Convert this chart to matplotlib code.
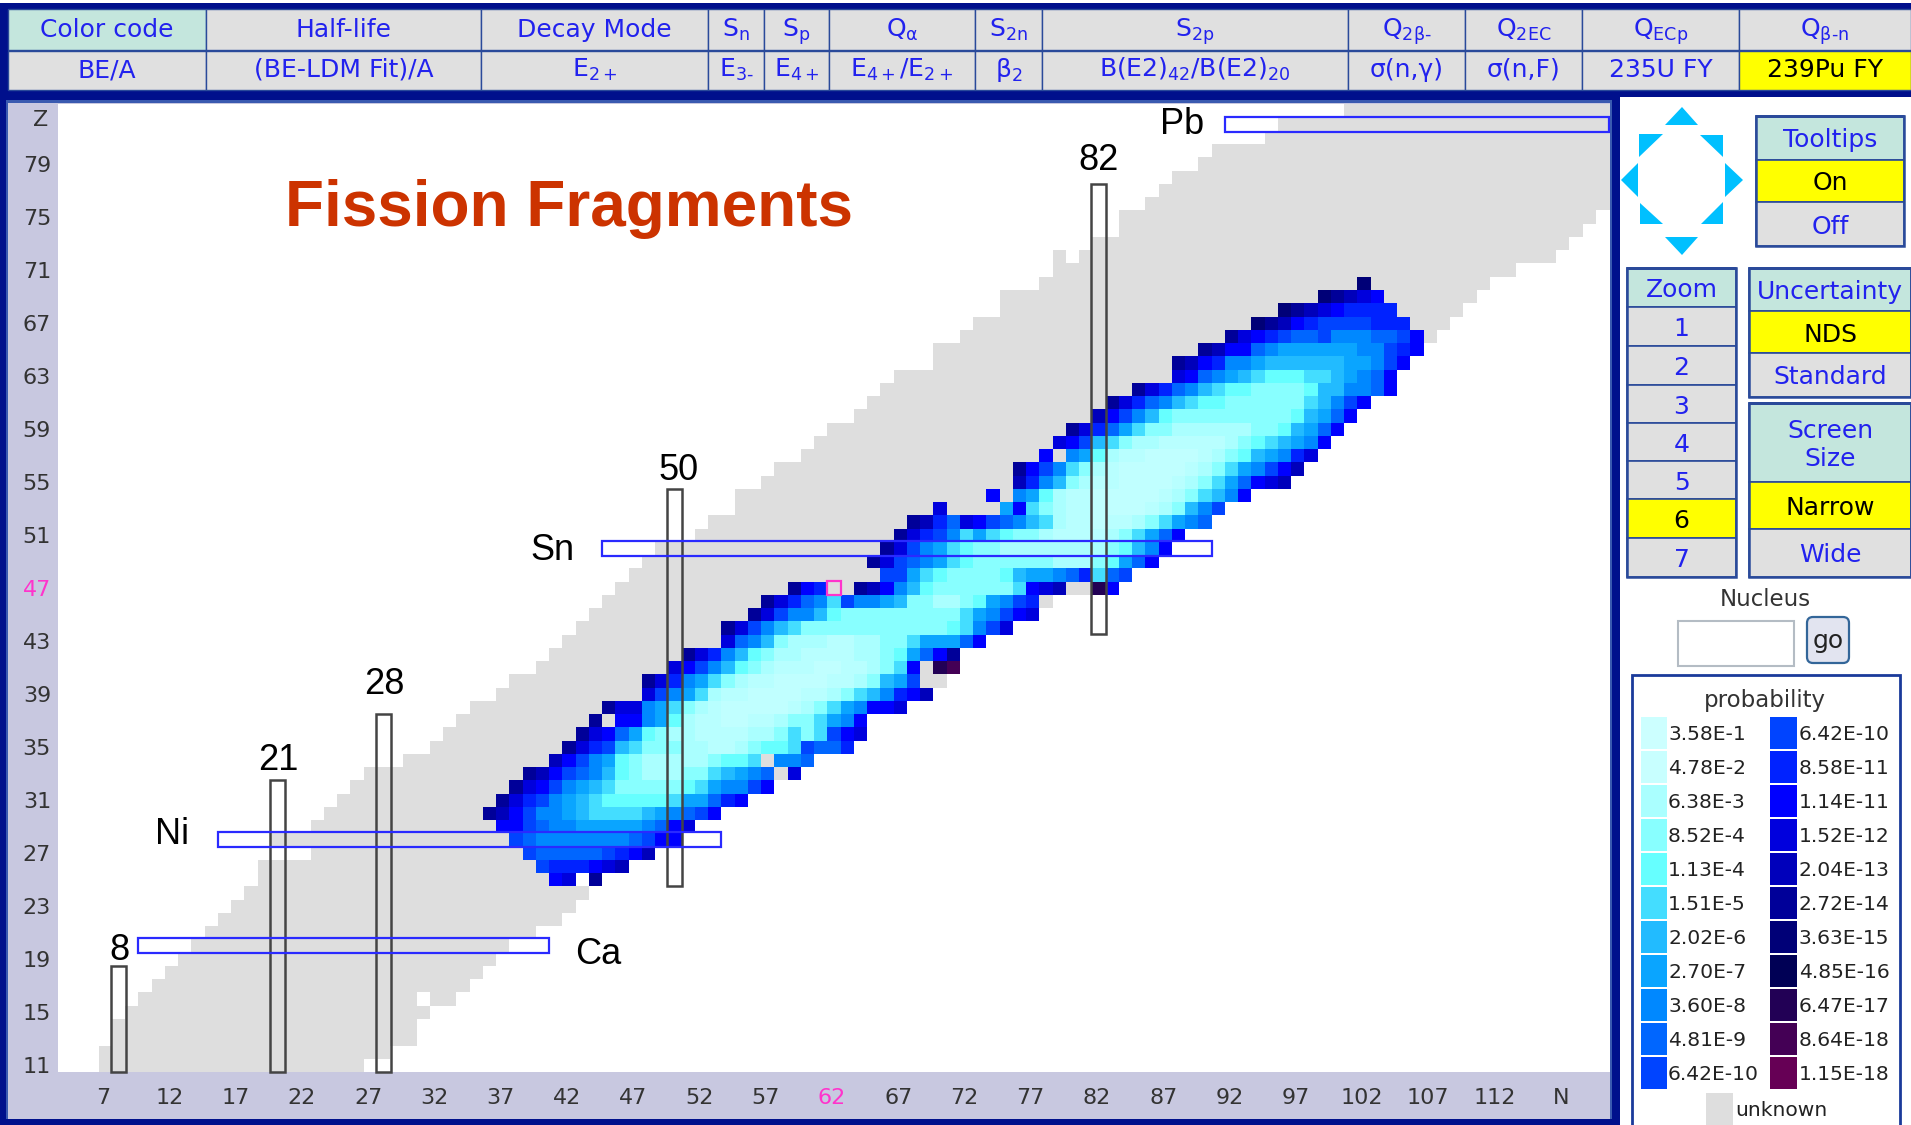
'''
Chart of nuclides view: 239Pu fission fragment yields on the N-Z plane.
'''

import numpy as np
import matplotlib
matplotlib.use('Agg')
import matplotlib.pyplot as plt
from matplotlib.colors import ListedColormap
from matplotlib.patches import Rectangle, Polygon, FancyBboxPatch
from matplotlib.transforms import ScaledTranslation

W, H = 1911, 1125

# known nuclides, one range of N per Z
gray_z = list(range(11, 84))
gray_nmin = [7, 7, 8, 8, 9, 10, 11, 12, 13, 14, 15, 16, 17, 18, 19, 19, 23, 20, 23, 24,
             25, 26, 27, 30, 32, 33, 34, 35, 37, 38, 40, 41, 42, 43, 44, 45, 46, 47, 48, 49,
             52, 53, 55, 55, 57, 58, 60, 61, 62, 64, 65, 66, 67, 70, 70, 72, 73, 75, 75, 78,
             79, 79, 82, 84, 84, 86, 87, 88, 90, 91, 95, 96, 101]
gray_nmax = [26, 28, 30, 30, 31, 33, 34, 35, 36, 37, 39, 41, 42, 43, 44, 46, 48, 50, 51, 53,
             55, 57, 59, 60, 63, 64, 64, 67, 69, 70, 71, 71, 73, 75, 77, 78, 83, 84, 86, 87,
             88, 90, 91, 93, 96, 97, 98, 99, 100, 101, 102, 103, 104, 105, 106, 107, 108, 109, 110, 111,
             113, 116, 117, 118, 119, 121, 121, 121, 121, 121, 121, 121, 121]
gray_holes = [(31, 16), (43, 25), (80, 72)]

# yield level per cell, one string per Z. 0-9 and a-k index level_colors, '.' = no yield
fy_z = list(range(25, 71))
fy_start = [41, 40, 39, 38, 37, 36, 37, 38, 39, 41, 42, 43, 44, 45, 48, 48, 50, 51, 54, 54,
            56, 57, 59, 66, 65, 66, 67, 68, 70, 74, 76, 76, 78, 79, 80, 82, 83, 85, 88, 88,
            90, 92, 94, 96, 99, 102]
fy_levels = [
    'cd.f',
    'abbbcde',
    'a99999abce',
    'a988888889acc',
    'cca9887777789cd',
    'feca887655556789ac',
    'fdba8765444445779bc',
    'fdca87653333345788ac',
    'feca986432223356789.d',
    'eca8743222223445.889',
    'fdba65333221123445a99b',
    'fdc9743221111223535acd',
    'f.cc8742110011233578c',
    'fdd87532100000123578ccd',
    'da87521100001123568bce',
    'fdb87532110000112367a',
    'dca864321110011235c.ij',
    'fdb8643221111223479cf',
    'd986322211223357779c',
    'fda86533333333333458ad',
    'fda8864333333333578acd',
    'fdb985a887633223478ab',
    'fcb..fec8643333335cde..ic',
    'aa7543333467789b59a',
    'fda987543333332223479c',
    'fda875433222222223468c',
    'fdba85754332111123579c',
    'feb9dca9865211011235789',
    'd....7c53211000012368a',
    'c.87421100000123568c',
    'eb8632110000123579cde',
    'fca8532100000123578ace',
    'c.87421100001234678bd',
    'dca65322111112345678c',
    'fdb97533222222334679c',
    'eca8643333333334679c',
    'fdb986544333333568ac',
    'fdb9865443333466889c',
    'dc98765444556789c',
    'fecb887666666778ac',
    'fecc9877777788abc',
    'fdcba99a88899ac',
    'gfecbaaaabbb',
    'gfedcbbbb',
    'gfedc',
    'g',
]
level_codes = '0123456789abcdefghijk'
level_colors = ['#c0ffff', '#b8ffff', '#aaffff', '#88ffff', '#66ffff', '#44ddff', '#22bbff',
                '#0aa5ff', '#0088ff', '#0066ff', '#0044ff', '#0022ff', '#0000ff', '#0000dd',
                '#0000bb', '#000099', '#000077', '#000055', '#220055', '#440055', '#660055']
gray_color = '#dedede'

# magic number boxes
magic_n = [8, 20, 28, 50, 82]
magic_zlo = [10.5, 10.5, 10.5, 24.5, 43.5]
magic_zhi = [18.5, 32.5, 37.5, 54.5, 77.5]
magic_z = [20, 28, 50, 82]
magic_nlo = [9.5, 15.5, 44.5, 91.5]
magic_nhi = [40.5, 53.5, 90.5, 120.5]
selected_n, selected_z = 62, 47

n_ticks = [7, 12, 17, 22, 27, 32, 37, 42, 47, 52, 57, 62, 67, 72, 77, 82, 87, 92, 97, 102, 107, 112, 117]
n_labels = [str(n) for n in n_ticks[:-1]] + ['N']
z_ticks = [11, 15, 19, 23, 27, 31, 35, 39, 43, 47, 51, 55, 59, 63, 67, 71, 75, 79]

# top menu
col_edges = [8, 206, 481, 708, 764, 829, 975, 1042, 1348, 1465, 1582, 1739, 1911]
menu_row1 = ['Color code', 'Half-life', 'Decay Mode', 'S$_{n}$', 'S$_{p}$', r'Q$_{\alpha}$', 'S$_{2n}$',
             'S$_{2p}$', r'Q$_{2\beta\text{-}}$', 'Q$_{2EC}$', 'Q$_{ECp}$', r'Q$_{\beta\text{-}n}$']
menu_row2 = ['BE/A', '(BE-LDM Fit)/A', 'E$_{2+}$', r'E$_{3\text{-}}$', 'E$_{4+}$', 'E$_{4+}$/E$_{2+}$',
             r'$\beta_{2}$', 'B(E2)$_{42}$/B(E2)$_{20}$', r'σ(n,γ)', 'σ(n,F)', '235U FY', '239Pu FY']

# legend
probs_left = ['3.58E-1', '4.78E-2', '6.38E-3', '8.52E-4', '1.13E-4', '1.51E-5', '2.02E-6',
              '2.70E-7', '3.60E-8', '4.81E-9', '6.42E-10']
probs_right = ['6.42E-10', '8.58E-11', '1.14E-11', '1.52E-12', '2.04E-13', '2.72E-14', '3.63E-15',
               '4.85E-16', '6.47E-17', '8.64E-18', '1.15E-18']
swatch_left = ['#ccffff', '#c8ffff', '#aaffff', '#88ffff', '#66ffff', '#44ddff', '#22bbff',
               '#0aa5ff', '#0088ff', '#0066ff', '#0044ff']
swatch_right = ['#0044ff', '#0022ff', '#0000ff', '#0000dd', '#0000bb', '#000099', '#000077',
                '#000055', '#220055', '#440055', '#660055']

NAVY = '#00108c'
EDGE = '#2a4a9a'
HEAD = '#c4e6dd'
CELL = '#e0e0e0'
BLUE = '#2222ee'
YELLOW = '#ffff00'
STRIP = '#c8c8e0'
PINK = '#ff33cc'

plt.rcParams['font.family'] = ['DejaVu Sans']
plt.rcParams['mathtext.default'] = 'regular'

fig = plt.figure(figsize=(W / 100, H / 100), dpi=100, facecolor='white')

# page furniture in pixel coordinates, under the chart
ui = fig.add_axes([0, 0, 1, 1], zorder=0)
ui.set_xlim(0, W)
ui.set_ylim(H, 0)
ui.axis('off')


def box(x0, y0, x1, y1, fc, ec='none', lw=0, z=1):
    ui.add_patch(Rectangle((x0, y0), x1 - x0, y1 - y0, fc=fc, ec=ec, lw=lw, zorder=z))


def label(x, y, s, size=18, color=BLUE, ha='center', va='center', **kw):
    fig.text(x, y, s, transform=ui.transData, fontsize=size, color=color, ha=ha, va=va, **kw)


# menu band
box(0, 3, W, 97, NAVY)
for i in range(len(col_edges) - 1):
    x0, x1 = col_edges[i], col_edges[i + 1]
    xc = (x0 + x1) / 2
    box(x0, 9, x1, 50, HEAD if i == 0 else CELL, EDGE, 1)
    box(x0, 51, x1, 90, YELLOW if i == 11 else CELL, EDGE, 1)
    label(xc, 37, menu_row1[i], va='baseline')
    label(xc, 77, menu_row2[i], va='baseline', color='black' if i == 11 else BLUE)

# frame around the chart
box(0, 97, 1620, H, NAVY)
box(6, 100, 1612, 1119, '#3a5ab0')
box(8, 103, 1610, 1119, STRIP)

# arrows
arrows = [[(1665, 125), (1682, 107), (1698, 125)],
          [(1639, 134), (1663, 134), (1639, 157)],
          [(1700, 135), (1723, 135), (1723, 157)],
          [(1621, 180), (1638, 163), (1638, 197)],
          [(1725, 163), (1743, 180), (1725, 197)],
          [(1640, 203), (1663, 224), (1640, 224)],
          [(1723, 202), (1723, 224), (1701, 224)],
          [(1665, 237), (1698, 237), (1682, 255)]]
for pts in arrows:
    ui.add_patch(Polygon(pts, closed=True, fc='#00c0ff', ec='none', zorder=2))


def panel(x0, x1, rows):
    # rows are (top, bottom, text, kind)
    for y0, y1, text, kind in rows:
        fc = {'h': HEAD, 'n': CELL, 's': YELLOW}[kind]
        box(x0, y0, x1, y1, fc, EDGE, 1.2)
        label((x0 + x1) / 2, (y0 + y1) / 2 + 2.5, text, color='black' if kind == 's' else BLUE)
    ui.add_patch(Rectangle((x0, rows[0][0]), x1 - x0, rows[-1][1] - rows[0][0], fc='none', ec=EDGE, lw=1.8, zorder=3))
    box(x0, rows[0][0] - 1, x1, rows[0][0] + 2, EDGE, z=3)


panel(1756, 1904, [(116, 160, 'Tooltips', 'h'), (160, 202, 'On', 's'), (202, 246, 'Off', 'n')])
panel(1627, 1736, [(268, 307, 'Zoom', 'h'), (307, 346, '1', 'n'), (346, 385, '2', 'n'), (385, 423, '3', 'n'),
                   (423, 461, '4', 'n'), (461, 499, '5', 'n'), (499, 538, '6', 's'), (538, 577, '7', 'n')])
panel(1749, 1911, [(268, 311, 'Uncertainty', 'h'), (311, 353, 'NDS', 's'), (353, 397, 'Standard', 'n')])
panel(1749, 1911, [(403, 482, 'Screen\nSize', 'h'), (482, 529, 'Narrow', 's'), (529, 577, 'Wide', 'n')])

# nucleus box
label(1765, 600, 'Nucleus', size=16.5, color='#333333')
box(1678, 621, 1794, 666, 'white', '#b4bcc4', 1.5)
ui.add_patch(FancyBboxPatch((1809, 619), 38, 42, boxstyle='round,pad=2,rounding_size=6',
                            fc='#e2e4f0', ec='#336699', lw=1.6, zorder=2))
label(1828, 641, 'go', size=18, color='#222222')

# legend
ui.add_patch(Rectangle((1632, 675), 268, 470, fc='white', ec='#1a3a9a', lw=2, zorder=1))
label(1765, 701, 'probability', size=16.5, color='#333333')
for i in range(11):
    y0 = 717 + i * 34
    box(1641, y0, 1667, y0 + 32, swatch_left[i], z=2)
    box(1770, y0, 1797, y0 + 32, swatch_right[i], z=2)
    label(1668, y0 + 18, probs_left[i], size=14.6, color='#222222', ha='left')
    label(1799, y0 + 18, probs_right[i], size=14.6, color='#222222', ha='left')
box(1706, 1093, 1733, 1125, gray_color, z=2)
label(1735, 1110, 'unknown', size=14.6, color='#222222', ha='left')

# the N-Z grid
ax = fig.add_axes([58 / W, 1 - 1071.6 / H, (1610 - 58) / W, (1071.6 - 104) / H], zorder=1)
n_min, n_max, z_min, z_max = 3, 122, 10, 84
grid = np.full((z_max - z_min + 1, n_max - n_min + 1), np.nan)
for z, lo, hi in zip(gray_z, gray_nmin, gray_nmax):
    grid[z - z_min, lo - n_min:hi - n_min + 1] = 0
for n, z in gray_holes:
    grid[z - z_min, n - n_min] = np.nan
for z, start, levels in zip(fy_z, fy_start, fy_levels):
    for i, code in enumerate(levels):
        if code != '.':
            grid[z - z_min, start + i - n_min] = level_codes.index(code) + 1

cmap = ListedColormap([gray_color] + level_colors)
cmap.set_bad('white')
ax.imshow(np.ma.masked_invalid(grid), cmap=cmap, vmin=-0.5, vmax=len(level_colors) + 0.5, origin='lower',
          extent=(n_min - 0.5, n_max + 0.5, z_min - 0.5, z_max + 0.5), aspect='auto', interpolation='nearest')
ax.set_xlim(3.44, 120.57)
ax.set_ylim(10.5, 83.53)

for spine in ax.spines.values():
    spine.set_visible(False)
ax.set_xticks(n_ticks)
ax.set_xticklabels(n_labels)
ax.set_yticks(z_ticks)
ax.set_yticklabels([str(z) for z in z_ticks])
ax.tick_params(axis='x', length=0, pad=12, labelsize=16, labelcolor='#333333')
ax.tick_params(axis='y', length=0, pad=5, labelsize=16, labelcolor='#333333')
shift = ScaledTranslation(-2 / 100, 0, fig.dpi_scale_trans)
for lab in ax.get_xticklabels():
    lab.set_transform(lab.get_transform() + shift)
    if lab.get_text() == '62':
        lab.set_color(PINK)
for lab in ax.get_yticklabels():
    lab.set_y(lab.get_position()[1])
    if lab.get_text() == '47':
        lab.set_color(PINK)
label(41, 120, 'Z', size=16, color='#333333')

for n, lo, hi in zip(magic_n, magic_zlo, magic_zhi):
    ax.add_patch(Rectangle((n - 0.57, lo), 1.14, hi - lo, fc='none', ec='#444444', lw=1.8, clip_on=False, zorder=3))
for z, lo, hi in zip(magic_z, magic_nlo, magic_nhi):
    ax.add_patch(Rectangle((lo, z - 0.55), hi - lo, 1.1, fc='none', ec='#2a2aff', lw=1.6, zorder=4))
ax.add_patch(Rectangle((selected_n - 0.5, selected_z - 0.5), 1, 1, fc='none', ec=PINK, lw=1.6, zorder=5))

# annotations on the chart
sans = 'Liberation Sans'
label(569, 209, 'Fission Fragments', size=46, color='#cc3300', family=sans, weight='bold')
for x, y, s in [(1182, 125, 'Pb'), (1099, 160, '82'), (679, 471, '50'), (552, 550, 'Sn'), (384, 685, '28'),
                (278, 761, '21'), (172, 835, 'Ni'), (119, 950, '8'), (598, 955, 'Ca')]:
    label(x, y, s, size=26, color='black', family=sans)

fig.savefig('out.png', dpi=100, facecolor='white')
